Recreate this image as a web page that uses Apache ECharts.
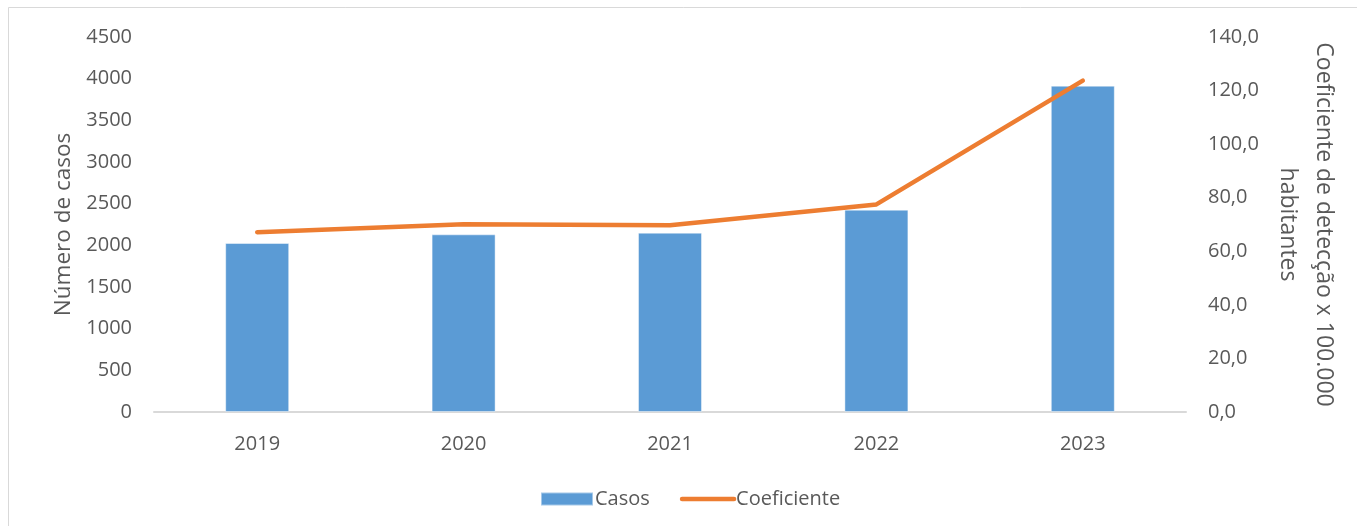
<!DOCTYPE html>
<html>
<head>
<meta charset="utf-8">
<script src="https://cdn.jsdelivr.net/npm/echarts@6/dist/echarts.min.js"></script>
<style>
  html, body { margin: 0; padding: 0; background: #fff; }
  #chart { width: 1357px; height: 526px; }
</style>
</head>
<body>
<div id="chart"></div>
<script>
// Casos e coeficiente de detecção por ano
const anos = ['2019', '2020', '2021', '2022', '2023'];
const casos = [2028, 2132, 2152, 2428, 3916];
const coeficiente = [67.1, 70.1, 69.7, 77.5, 123.7];
const casosTicks = { min: 0, max: 4500, interval: 500 };
const coefTicks = { min: 0, max: 140, interval: 20 };

const FONT = '"Open Sans", "Liberation Sans", sans-serif';
const GREY = '#595959';

const chart = echarts.init(document.getElementById('chart'), null, { renderer: 'canvas' });

chart.setOption({
  backgroundColor: '#ffffff',
  animation: false,
  textStyle: { fontFamily: FONT },
  graphic: [{
    type: 'rect',
    silent: true,
    shape: { x: 8.5, y: 7.5, width: 1500, height: 700 },
    style: { fill: 'none', stroke: '#d9d9d9', lineWidth: 1 },
    z: -10
  }],
  grid: { left: 154, right: 171, top: 37, bottom: 114, containLabel: false },
  legend: {
    left: 535,
    top: 484,
    itemWidth: 52,
    itemHeight: 13,
    itemGap: 30,
    textStyle: { fontFamily: FONT, fontSize: 20, color: GREY, padding: [0, 0, 0, -3] },
    data: [
      { name: 'Casos', icon: 'rect' },
      {
        name: 'Coeficiente',
        itemStyle: { opacity: 0 },
        lineStyle: { color: '#ed7d31', width: 4.5, cap: 'round' }
      }
    ]
  },
  xAxis: {
    type: 'category',
    data: anos,
    axisLine: { show: true, lineStyle: { color: '#d9d9d9', width: 2 } },
    axisTick: { show: false },
    axisLabel: { color: GREY, fontSize: 20, fontFamily: FONT, margin: 22 }
  },
  yAxis: [
    {
      type: 'value',
      min: casosTicks.min,
      max: casosTicks.max,
      interval: casosTicks.interval,
      name: 'Número de casos',
      nameLocation: 'middle',
      nameGap: 73,
      nameRotate: 90,
      nameTextStyle: { color: GREY, fontSize: 22.5, fontFamily: FONT },
      axisLine: { show: false },
      axisTick: { show: false },
      splitLine: { show: false },
      axisLabel: {
        color: GREY, fontSize: 20, fontFamily: FONT, margin: 22,
        formatter: v => String(v)
      }
    },
    {
      type: 'value',
      min: coefTicks.min,
      max: coefTicks.max,
      interval: coefTicks.interval,
      name: 'Coeficiente de detecção x 100.000\nhabitantes',
      nameLocation: 'middle',
      nameGap: 80,
      nameRotate: -90,
      nameTextStyle: { color: GREY, fontSize: 23, fontFamily: FONT, lineHeight: 36 },
      axisLine: { show: false },
      axisTick: { show: false },
      splitLine: { show: false },
      axisLabel: {
        color: GREY, fontSize: 20, fontFamily: FONT, margin: 22,
        formatter: v => v.toFixed(1).replace('.', ',')
      }
    }
  ],
  series: [
    {
      name: 'Casos',
      type: 'bar',
      yAxisIndex: 0,
      data: casos,
      barWidth: 64,
      itemStyle: { color: '#5b9bd5', borderColor: 'rgba(255,255,255,0.45)', borderWidth: 1 }
    },
    {
      name: 'Coeficiente',
      type: 'line',
      yAxisIndex: 1,
      data: coeficiente,
      symbol: 'none',
      showSymbol: false,
      itemStyle: { color: '#ed7d31' },
      lineStyle: { color: '#ed7d31', width: 4.5, cap: 'round', join: 'round' }
    }
  ]
});
</script>
</body>
</html>
